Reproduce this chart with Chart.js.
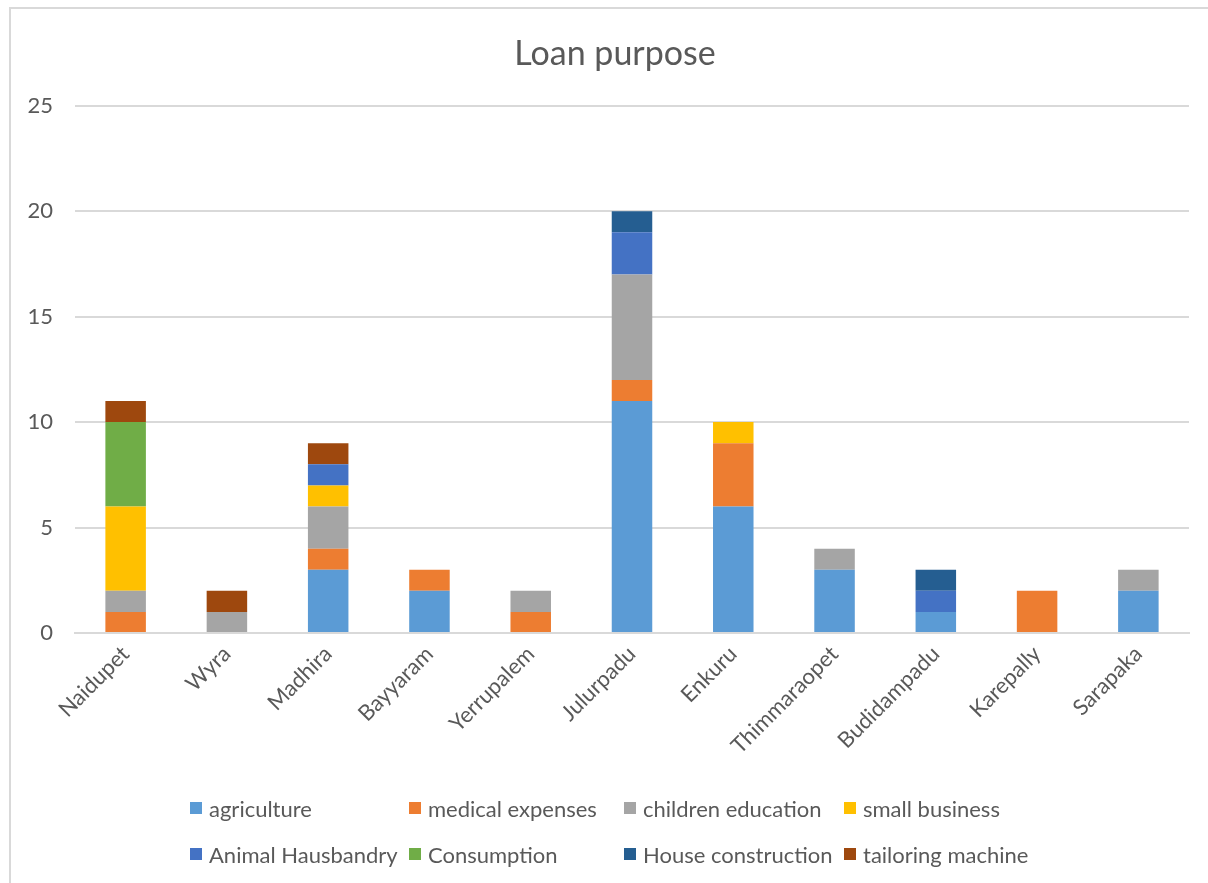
<!DOCTYPE html>
<html>
<head>
<meta charset="utf-8">
<script src="https://cdn.jsdelivr.net/npm/chart.js@4.4.1/dist/chart.umd.min.js"></script>
<style>
  html, body { margin: 0; padding: 0; background: #fff; overflow: hidden; }
  #frame {
    position: absolute; left: 9px; top: 7px;
    width: 1212px; height: 890px;
    border: 2px solid #d9d9d9; background: #fff;
  }
  #chart-box { position: absolute; left: 0; top: 0; width: 1212px; height: 870px; }
  #legend {
    position: absolute; left: 179px; top: 786px;
    display: grid; grid-template-columns: 219px 215px 220px 200px;
    row-gap: 20px;
    font-family: Lato, "Noto Sans", sans-serif; font-size: 22px; color: #595959;
  }
  .item { display: flex; align-items: center; height: 26px; white-space: nowrap; }
  .swatch { width: 12px; height: 12px; margin-right: 7px; flex: none; }
</style>
</head>
<body>
<div id="frame">
  <div id="chart-box"><canvas id="loan-chart"></canvas></div>
  <div id="legend"></div>
</div>
<script>
var villages = ['Naidupet', 'Wyra', 'Madhira', 'Bayyaram', 'Yerrupalem', 'Julurpadu',
    'Enkuru', 'Thimmaraopet', 'Budidampadu', 'Karepally', 'Sarapaka'];

var agriculture       = [0, 0, 3, 2, 0, 11, 6, 3, 1, 0, 2];
var medicalExpenses   = [1, 0, 1, 1, 1, 1, 3, 0, 0, 2, 0];
var childrenEducation = [1, 1, 2, 0, 1, 5, 0, 1, 0, 0, 1];
var smallBusiness     = [4, 0, 1, 0, 0, 0, 1, 0, 0, 0, 0];
var animalHusbandry   = [0, 0, 1, 0, 0, 2, 0, 0, 1, 0, 0];
var consumption       = [4, 0, 0, 0, 0, 0, 0, 0, 0, 0, 0];
var houseConstruction = [0, 0, 0, 0, 0, 1, 0, 0, 1, 0, 0];
var tailoringMachine  = [1, 1, 1, 0, 0, 0, 0, 0, 0, 0, 0];

var yTicks = [0, 5, 10, 15, 20, 25];

var series = [
    { label: 'agriculture', data: agriculture, color: '#5b9bd5' },
    { label: 'medical expenses', data: medicalExpenses, color: '#ed7d31' },
    { label: 'children education', data: childrenEducation, color: '#a5a5a5' },
    { label: 'small business', data: smallBusiness, color: '#ffc000' },
    { label: 'Animal Hausbandry', data: animalHusbandry, color: '#4472c4' },
    { label: 'Consumption', data: consumption, color: '#70ad47' },
    { label: 'House construction', data: houseConstruction, color: '#255e91' },
    { label: 'tailoring machine', data: tailoringMachine, color: '#9e480e' }
];

var textColor = '#595959';
var gridColor = '#d9d9d9';
var fontFamily = 'Lato, "Noto Sans", sans-serif';

var ctx = document.getElementById('loan-chart').getContext('2d');
var chart = new Chart(ctx, {
    type: 'bar',
    data: {
        labels: villages,
        datasets: series.map(function (s) {
            return {
                label: s.label,
                data: s.data,
                backgroundColor: s.color,
                borderWidth: 0,
                barPercentage: 0.4,
                categoryPercentage: 1.0
            };
        })
    },
    options: {
        responsive: true,
        maintainAspectRatio: false,
        animation: false,
        layout: { padding: { left: 0, right: 4, top: 0, bottom: 99 } },
        plugins: {
            legend: { display: false },
            tooltip: { enabled: false },
            title: {
                display: true,
                text: 'Loan purpose',
                color: textColor,
                font: { family: fontFamily, size: 34, weight: 'normal' },
                padding: { top: 25, bottom: 31 }
            }
        },
        scales: {
            x: {
                stacked: true,
                grid: { display: false, drawTicks: false },
                border: { display: true, color: gridColor, width: 2 },
                ticks: {
                    color: textColor,
                    font: { family: fontFamily, size: 22 },
                    minRotation: 45,
                    maxRotation: 45,
                    autoSkip: false,
                    padding: 8
                },
                afterFit: function (scale) { scale.height = 147; }
            },
            y: {
                stacked: true,
                min: 0,
                max: 25,
                afterBuildTicks: function (scale) {
                    scale.ticks = yTicks.map(function (v) { return { value: v }; });
                },
                grid: { color: gridColor, lineWidth: 2, drawTicks: false },
                border: { display: false },
                ticks: {
                    color: textColor,
                    font: { family: fontFamily, size: 22 },
                    padding: 22
                },
                afterFit: function (scale) { scale.width = 64; }
            },
            // empty right-hand gutter so the title sits centred over the frame
            gutter: {
                type: 'linear',
                position: 'right',
                grid: { display: false, drawTicks: false },
                border: { display: false },
                ticks: { display: false },
                afterFit: function (scale) { scale.width = 30; }
            }
        }
    }
});

// legend laid out as a grid below the plot
var legendEl = document.getElementById('legend');
chart.data.datasets.forEach(function (ds) {
    var item = document.createElement('div');
    item.className = 'item';
    var sw = document.createElement('span');
    sw.className = 'swatch';
    sw.style.background = ds.backgroundColor;
    var txt = document.createElement('span');
    txt.textContent = ds.label;
    item.appendChild(sw);
    item.appendChild(txt);
    legendEl.appendChild(item);
});
</script>
</body>
</html>
